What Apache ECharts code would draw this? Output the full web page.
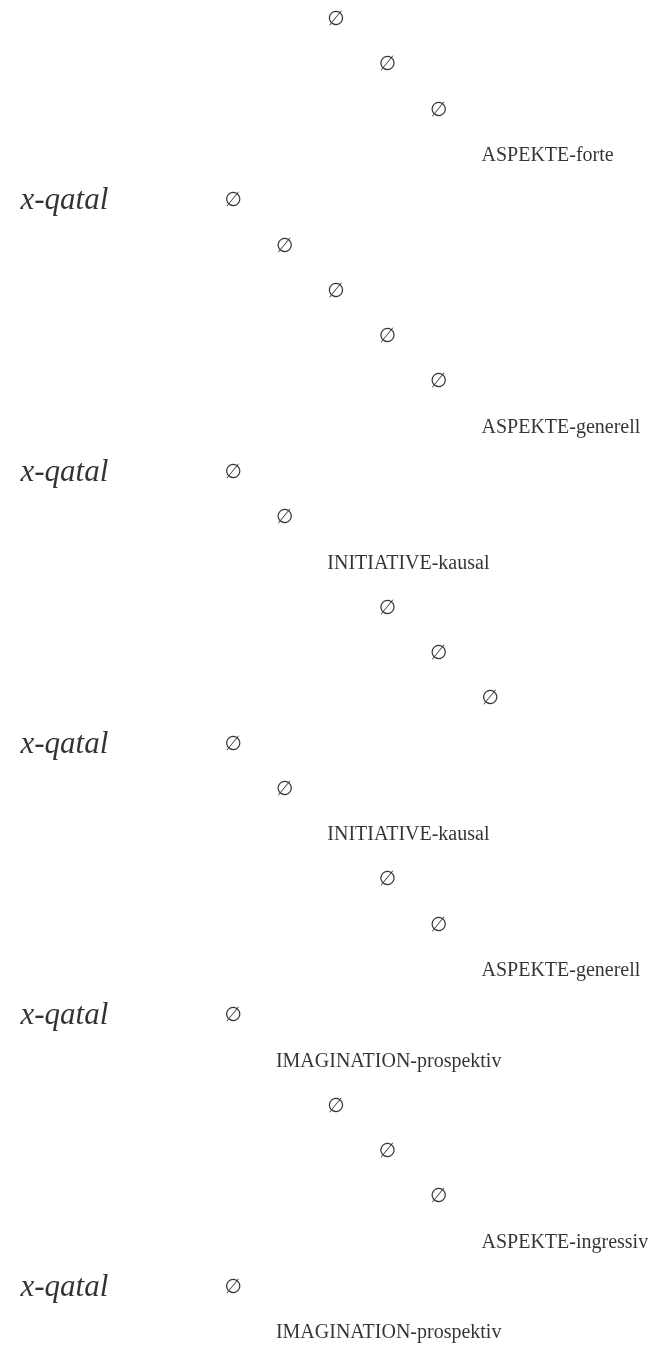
<!DOCTYPE html>
<html>
<head>
<meta charset="utf-8">
<script src="https://cdn.jsdelivr.net/npm/echarts@6/dist/echarts.min.js"></script>
<style>html,body{margin:0;padding:0;background:#fff}#c{width:650px;height:1345px}</style>
</head>
<body>
<div id="c"></div>
<script>
// One entry per line, top to bottom: the text and the indentation column it sits in
const rowTexts = ['\u2205','\u2205','\u2205','ASPEKTE-forte',
  '\u2205','\u2205','\u2205','\u2205','\u2205','ASPEKTE-generell',
  '\u2205','\u2205','INITIATIVE-kausal','\u2205','\u2205','\u2205',
  '\u2205','\u2205','INITIATIVE-kausal','\u2205','\u2205','ASPEKTE-generell',
  '\u2205','IMAGINATION-prospektiv','\u2205','\u2205','\u2205','ASPEKTE-ingressiv',
  '\u2205','IMAGINATION-prospektiv'];
const rowDepths = [2,3,4,5, 0,1,2,3,4,5, 0,1,2,3,4,5, 0,1,2,3,4,5, 0,1,2,3,4,5, 0,1];

// Clause heads (row index) and their column
const headRows  = [4,10,16,22,28];
const headText  = 'x-qatal';
const headDepth = -3.97;

const NULL = '\u2205';
const chart = echarts.init(document.getElementById('c'), null, {renderer:'canvas'});
const hidden = {color:'rgba(0,0,0,0)'};
const nullData = [], wordData = [];
rowTexts.forEach((t,i)=>{
  const item = {value:[rowDepths[i], i], name:t};
  (t === NULL ? nullData : wordData).push(item);
});
chart.setOption({
  animation:false,
  backgroundColor:'#fff',
  grid:{left:0,right:0,top:20,bottom:12},
  xAxis:{type:'value',min:-4.358,max:8.288,show:false},
  yAxis:{type:'value',min:0,max:29,inverse:true,show:false},
  series:[
    {type:'scatter',name:'null',symbolSize:1,itemStyle:hidden,silent:true,data:nullData,
     label:{show:true,position:'right',distance:0,formatter:p=>p.name,color:'#000',fontSize:20,fontFamily:'DejaVu Sans'}},
    {type:'scatter',name:'words',symbolSize:1,itemStyle:hidden,silent:true,data:wordData,
     label:{show:true,position:'right',distance:0,formatter:p=>p.name,color:'#000',fontSize:20,fontFamily:'Liberation Serif'}},
    {type:'scatter',name:'heads',symbolSize:1,itemStyle:hidden,silent:true,
     data:headRows.map(r=>[headDepth,r]),
     label:{show:true,position:'right',distance:0,formatter:()=>headText,color:'#000',fontSize:31,fontStyle:'italic',fontFamily:'Liberation Serif'}}
  ]
});
</script>
</body>
</html>
